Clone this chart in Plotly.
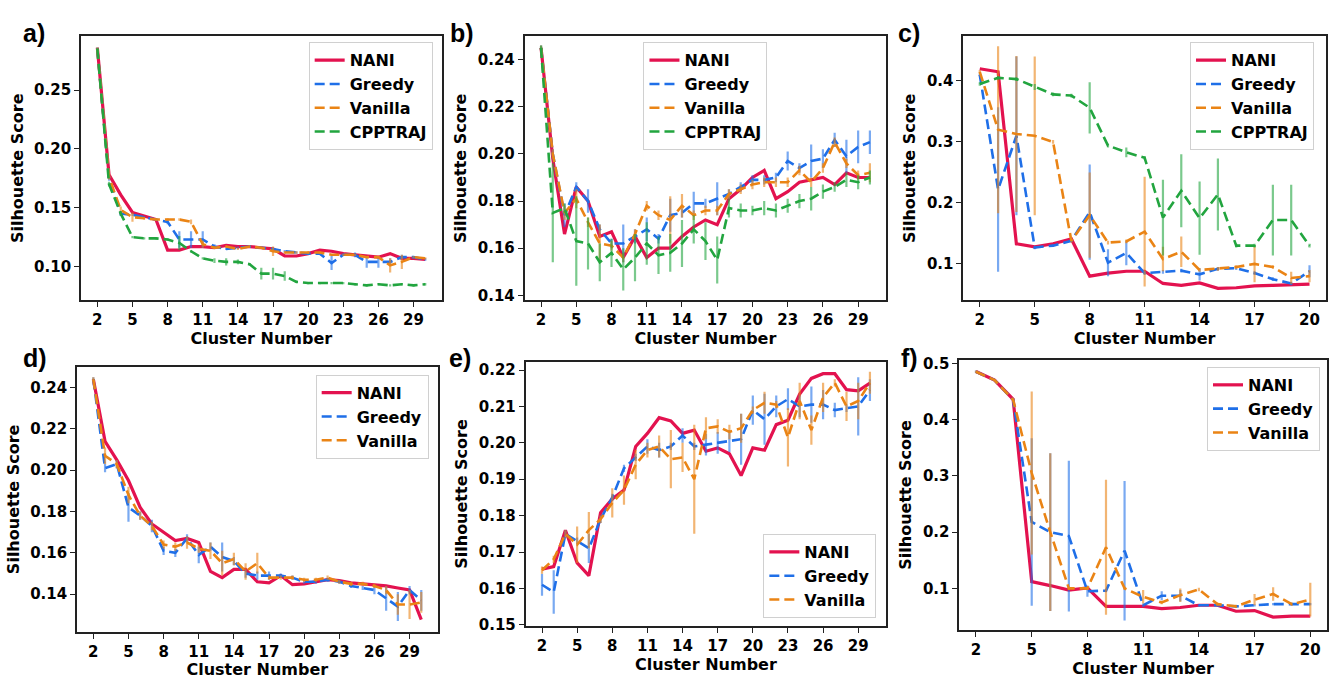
import plotly.graph_objects as go

# ---------------- data ----------------
k30 = list(range(2, 31))
k20 = list(range(2, 21))

# panel a
NANI_a = [0.286, 0.178, 0.161, 0.146, 0.143, 0.140, 0.114, 0.114, 0.117, 0.117, 0.116, 0.118, 0.117, 0.117, 0.116, 0.115, 0.109, 0.109, 0.111, 0.114, 0.113, 0.111, 0.110, 0.109, 0.108, 0.111, 0.107, 0.107, 0.106]
Greedy_a = [0.285, 0.175, 0.145, 0.144, 0.142, 0.140, 0.138, 0.123, 0.123, 0.123, 0.117, 0.115, 0.116, 0.117, 0.116, 0.115, 0.113, 0.112, 0.111, 0.111, 0.103, 0.110, 0.110, 0.104, 0.104, 0.104, 0.108, 0.108, 0.106]
Greedy_a_err = [0.001, 0.002, 0.002, 0.001, 0.001, 0.001, 0.002, 0.007, 0.007, 0.007, 0.002, 0.001, 0.001, 0.001, 0.001, 0.001, 0.001, 0.001, 0.001, 0.001, 0.006, 0.001, 0.002, 0.005, 0.005, 0.003, 0.002, 0.001, 0.001]
Vanilla_a = [0.285, 0.176, 0.148, 0.142, 0.141, 0.140, 0.140, 0.140, 0.138, 0.119, 0.116, 0.117, 0.115, 0.117, 0.116, 0.113, 0.112, 0.112, 0.112, 0.112, 0.110, 0.110, 0.110, 0.108, 0.108, 0.101, 0.104, 0.108, 0.107]
Vanilla_a_err = [0.001, 0.002, 0.003, 0.004, 0.001, 0.001, 0.001, 0.001, 0.002, 0.003, 0.001, 0.001, 0.001, 0.001, 0.001, 0.004, 0.001, 0.001, 0.001, 0.001, 0.001, 0.001, 0.001, 0.001, 0.001, 0.006, 0.006, 0.001, 0.001]
CPPTRAJ_a = [0.285, 0.170, 0.145, 0.125, 0.124, 0.124, 0.123, 0.120, 0.113, 0.107, 0.105, 0.104, 0.104, 0.102, 0.094, 0.094, 0.092, 0.087, 0.086, 0.086, 0.086, 0.086, 0.085, 0.084, 0.085, 0.084, 0.085, 0.084, 0.085]
CPPTRAJ_a_err = [0.001, 0.002, 0.002, 0.001, 0.001, 0.001, 0.001, 0.006, 0.001, 0.001, 0.002, 0.003, 0.002, 0.001, 0.005, 0.005, 0.004, 0.001, 0.001, 0.001, 0.001, 0.001, 0.001, 0.001, 0.001, 0.001, 0.001, 0.001, 0.001]

# panel b
NANI_b = [0.245, 0.198, 0.166, 0.186, 0.180, 0.165, 0.167, 0.156, 0.165, 0.156, 0.160, 0.160, 0.165, 0.169, 0.172, 0.170, 0.181, 0.185, 0.190, 0.193, 0.181, 0.184, 0.188, 0.189, 0.190, 0.187, 0.192, 0.190, 0.190]
Greedy_b = [0.245, 0.200, 0.174, 0.186, 0.180, 0.168, 0.162, 0.162, 0.165, 0.168, 0.164, 0.174, 0.175, 0.179, 0.179, 0.181, 0.183, 0.186, 0.189, 0.189, 0.190, 0.197, 0.194, 0.197, 0.198, 0.206, 0.199, 0.203, 0.205]
Greedy_b_err = [0.001, 0.002, 0.005, 0.002, 0.005, 0.002, 0.002, 0.008, 0.003, 0.005, 0.002, 0.007, 0.002, 0.005, 0.002, 0.007, 0.002, 0.002, 0.002, 0.002, 0.002, 0.004, 0.002, 0.007, 0.004, 0.003, 0.007, 0.007, 0.005]
Vanilla_b = [0.245, 0.200, 0.175, 0.181, 0.171, 0.162, 0.161, 0.156, 0.166, 0.178, 0.174, 0.172, 0.178, 0.174, 0.176, 0.176, 0.183, 0.185, 0.187, 0.188, 0.188, 0.188, 0.193, 0.188, 0.194, 0.205, 0.196, 0.191, 0.192]
Vanilla_b_err = [0.001, 0.002, 0.003, 0.004, 0.002, 0.008, 0.002, 0.002, 0.002, 0.002, 0.002, 0.010, 0.005, 0.002, 0.002, 0.002, 0.002, 0.002, 0.002, 0.002, 0.002, 0.002, 0.002, 0.002, 0.002, 0.002, 0.002, 0.002, 0.004]
CPPTRAJ_b = [0.245, 0.175, 0.177, 0.163, 0.162, 0.154, 0.158, 0.151, 0.156, 0.162, 0.157, 0.158, 0.162, 0.168, 0.163, 0.155, 0.177, 0.176, 0.176, 0.177, 0.176, 0.178, 0.180, 0.181, 0.184, 0.186, 0.189, 0.188, 0.190]
CPPTRAJ_b_err = [0.001, 0.021, 0.002, 0.019, 0.011, 0.008, 0.006, 0.009, 0.010, 0.009, 0.008, 0.008, 0.010, 0.006, 0.008, 0.010, 0.004, 0.003, 0.002, 0.003, 0.003, 0.003, 0.003, 0.005, 0.003, 0.002, 0.003, 0.003, 0.003]

# panel c
NANI_c = [0.420, 0.415, 0.133, 0.128, 0.133, 0.141, 0.080, 0.085, 0.088, 0.088, 0.068, 0.065, 0.069, 0.060, 0.061, 0.064, 0.065, 0.066, 0.067]
Greedy_c = [0.410, 0.222, 0.310, 0.127, 0.130, 0.138, 0.185, 0.102, 0.118, 0.085, 0.087, 0.089, 0.083, 0.092, 0.093, 0.085, 0.075, 0.068, 0.088]
Greedy_c_err = [0.002, 0.135, 0.130, 0.003, 0.002, 0.002, 0.078, 0.022, 0.020, 0.003, 0.003, 0.003, 0.010, 0.003, 0.003, 0.003, 0.003, 0.003, 0.010]
Vanilla_c = [0.415, 0.320, 0.313, 0.310, 0.300, 0.138, 0.180, 0.135, 0.137, 0.153, 0.108, 0.120, 0.090, 0.092, 0.095, 0.100, 0.095, 0.077, 0.080]
Vanilla_c_err = [0.003, 0.137, 0.128, 0.130, 0.003, 0.003, 0.070, 0.003, 0.003, 0.090, 0.020, 0.025, 0.003, 0.003, 0.003, 0.030, 0.003, 0.010, 0.010]
CPPTRAJ_c = [0.395, 0.405, 0.403, 0.390, 0.378, 0.376, 0.356, 0.294, 0.283, 0.274, 0.176, 0.220, 0.175, 0.214, 0.130, 0.130, 0.172, 0.172, 0.130]
CPPTRAJ_c_err = [0.003, 0.003, 0.003, 0.005, 0.003, 0.003, 0.042, 0.003, 0.008, 0.003, 0.062, 0.060, 0.060, 0.059, 0.003, 0.003, 0.058, 0.058, 0.003]

# panel d
NANI_d = [0.244, 0.214, 0.205, 0.195, 0.182, 0.174, 0.170, 0.166, 0.167, 0.165, 0.151, 0.148, 0.152, 0.152, 0.146, 0.1455, 0.149, 0.1446, 0.145, 0.146, 0.147, 0.1466, 0.1455, 0.145, 0.1446, 0.144, 0.143, 0.142, 0.1277]
Greedy_d = [0.244, 0.201, 0.203, 0.182, 0.178, 0.173, 0.161, 0.160, 0.167, 0.159, 0.163, 0.158, 0.156, 0.150, 0.149, 0.149, 0.149, 0.148, 0.146, 0.146, 0.147, 0.146, 0.144, 0.143, 0.142, 0.138, 0.134, 0.142, 0.137]
Greedy_d_err = [0.001, 0.002, 0.002, 0.007, 0.002, 0.003, 0.002, 0.002, 0.002, 0.004, 0.002, 0.007, 0.002, 0.002, 0.002, 0.002, 0.001, 0.001, 0.001, 0.001, 0.001, 0.001, 0.001, 0.001, 0.002, 0.006, 0.007, 0.002, 0.005]
Vanilla_d = [0.244, 0.207, 0.203, 0.188, 0.178, 0.173, 0.164, 0.163, 0.165, 0.162, 0.161, 0.155, 0.157, 0.151, 0.155, 0.148, 0.148, 0.148, 0.147, 0.147, 0.148, 0.146, 0.145, 0.145, 0.144, 0.142, 0.135, 0.135, 0.136]
Vanilla_d_err = [0.001, 0.004, 0.002, 0.004, 0.002, 0.002, 0.002, 0.002, 0.003, 0.002, 0.004, 0.006, 0.003, 0.004, 0.005, 0.001, 0.001, 0.001, 0.001, 0.001, 0.001, 0.001, 0.001, 0.001, 0.001, 0.002, 0.005, 0.007, 0.005]

# panel e
NANI_e = [0.1653, 0.166, 0.176, 0.167, 0.1635, 0.1808, 0.1846, 0.187, 0.199, 0.2026, 0.2069, 0.206, 0.2026, 0.2035, 0.1977, 0.1986, 0.197, 0.191, 0.1986, 0.198, 0.205, 0.2062, 0.2134, 0.2177, 0.219, 0.219, 0.2146, 0.2143, 0.2164]
Greedy_e = [0.161, 0.159, 0.175, 0.173, 0.171, 0.179, 0.185, 0.193, 0.196, 0.199, 0.198, 0.199, 0.202, 0.199, 0.1995, 0.200, 0.2005, 0.201, 0.209, 0.2065, 0.210, 0.212, 0.210, 0.2105, 0.2105, 0.209, 0.2095, 0.210, 0.2145]
Greedy_e_err = [0.003, 0.006, 0.001, 0.001, 0.004, 0.001, 0.001, 0.001, 0.001, 0.002, 0.002, 0.001, 0.002, 0.001, 0.003, 0.003, 0.003, 0.007, 0.004, 0.007, 0.003, 0.003, 0.003, 0.005, 0.004, 0.002, 0.001, 0.008, 0.003]
Vanilla_e = [0.165, 0.168, 0.175, 0.172, 0.176, 0.179, 0.1835, 0.187, 0.194, 0.198, 0.199, 0.1955, 0.196, 0.190, 0.204, 0.2045, 0.203, 0.204, 0.209, 0.211, 0.2105, 0.2015, 0.2115, 0.2035, 0.2125, 0.2165, 0.210, 0.2115, 0.2165]
Vanilla_e_err = [0.001, 0.001, 0.001, 0.005, 0.005, 0.001, 0.004, 0.004, 0.004, 0.002, 0.003, 0.008, 0.004, 0.015, 0.003, 0.002, 0.002, 0.004, 0.001, 0.003, 0.001, 0.008, 0.005, 0.004, 0.004, 0.001, 0.004, 0.005, 0.003]

# panel f
NANI_f = [0.4855, 0.470, 0.436, 0.112, 0.105, 0.097, 0.101, 0.068, 0.068, 0.068, 0.064, 0.066, 0.070, 0.070, 0.0594, 0.0606, 0.049, 0.0507, 0.0507]
Greedy_f = [0.485, 0.470, 0.435, 0.218, 0.200, 0.193, 0.095, 0.096, 0.167, 0.070, 0.087, 0.087, 0.070, 0.070, 0.068, 0.070, 0.072, 0.072, 0.072]
Greedy_f_err = [0.002, 0.002, 0.003, 0.149, 0.140, 0.134, 0.010, 0.003, 0.124, 0.003, 0.008, 0.010, 0.002, 0.002, 0.002, 0.002, 0.002, 0.002, 0.002]
Vanilla_f = [0.485, 0.470, 0.435, 0.305, 0.200, 0.100, 0.100, 0.173, 0.100, 0.085, 0.075, 0.088, 0.098, 0.072, 0.068, 0.080, 0.090, 0.072, 0.080]
Vanilla_f_err = [0.002, 0.002, 0.003, 0.145, 0.140, 0.003, 0.003, 0.120, 0.003, 0.012, 0.003, 0.012, 0.003, 0.003, 0.003, 0.010, 0.012, 0.003, 0.030]

ticks30 = [2, 5, 8, 11, 14, 17, 20, 23, 26, 29]
ticks20 = [2, 5, 8, 11, 14, 17, 20]

# ---------------- styling ----------------
C_NANI = "#e3124f"
C_GREEDY = "#1f6fe8"
C_VAN = "#ea8415"
C_CPP = "#22a53f"
ERR = {C_GREEDY: "rgba(31,111,232,0.6)", C_VAN: "rgba(234,132,21,0.6)", C_CPP: "rgba(34,165,63,0.6)"}
FONT = "DejaVu Sans"

panels = [
    dict(name="a", x=k30, ticks=ticks30, xr=[0.6, 31.4], yr=[0.0714, 0.2956], ytv=[0.10, 0.15, 0.20, 0.25], fmt=".2f",
         dom_x=[81, 442], dom_y=[32, 301],
         series=[("NANI", NANI_a, None), ("Greedy", Greedy_a, Greedy_a_err), ("Vanilla", Vanilla_a, Vanilla_a_err), ("CPPTRAJ", CPPTRAJ_a, CPPTRAJ_a_err)],
         leg=dict(x=433, y=38, xa="right", ya="top"), lab=(34, 29)),
    dict(name="b", x=k30, ticks=ticks30, xr=[0.6, 31.4], yr=[0.1379, 0.2499], ytv=[0.14, 0.16, 0.18, 0.20, 0.22, 0.24], fmt=".2f",
         dom_x=[525, 887], dom_y=[32, 301],
         series=[("NANI", NANI_b, None), ("Greedy", Greedy_b, Greedy_b_err), ("Vanilla", Vanilla_b, Vanilla_b_err), ("CPPTRAJ", CPPTRAJ_b, CPPTRAJ_b_err)],
         leg=dict(x=706, y=38, xa="center", ya="top"), lab=(462, 29)),
    dict(name="c", x=k20, ticks=ticks20, xr=[1.1, 20.9], yr=[0.0405, 0.473], ytv=[0.1, 0.2, 0.3, 0.4], fmt=".1f",
         dom_x=[964, 1327], dom_y=[32, 301],
         series=[("NANI", NANI_c, None), ("Greedy", Greedy_c, Greedy_c_err), ("Vanilla", Vanilla_c, Vanilla_c_err), ("CPPTRAJ", CPPTRAJ_c, CPPTRAJ_c_err)],
         leg=dict(x=1315, y=38, xa="right", ya="top"), lab=(910, 29)),
    dict(name="d", x=k30, ticks=ticks30, xr=[0.6, 31.4], yr=[0.1218, 0.25], ytv=[0.14, 0.16, 0.18, 0.20, 0.22, 0.24], fmt=".2f",
         dom_x=[77, 438], dom_y=[369, 639],
         series=[("NANI", NANI_d, None), ("Greedy", Greedy_d, Greedy_d_err), ("Vanilla", Vanilla_d, Vanilla_d_err)],
         leg=dict(x=429, y=377, xa="right", ya="top"), lab=(35, 360)),
    dict(name="e", x=k30, ticks=ticks30, xr=[0.6, 31.4], yr=[0.1497, 0.2222], ytv=[0.15, 0.16, 0.17, 0.18, 0.19, 0.20, 0.21, 0.22], fmt=".2f",
         dom_x=[526, 887], dom_y=[364, 633],
         series=[("NANI", NANI_e, None), ("Greedy", Greedy_e, Greedy_e_err), ("Vanilla", Vanilla_e, Vanilla_e_err)],
         leg=dict(x=877, y=625, xa="right", ya="bottom"), lab=(460, 360)),
    dict(name="f", x=k20, ticks=ticks20, xr=[1.1, 20.9], yr=[0.0264, 0.5057], ytv=[0.1, 0.2, 0.3, 0.4, 0.5], fmt=".1f",
         dom_x=[960, 1328], dom_y=[362, 637],
         series=[("NANI", NANI_f, None), ("Greedy", Greedy_f, Greedy_f_err), ("Vanilla", Vanilla_f, Vanilla_f_err)],
         leg=dict(x=1321, y=369, xa="right", ya="top"), lab=(910, 360)),
]

W, H = 1329, 679
colors = {"NANI": C_NANI, "Greedy": C_GREEDY, "Vanilla": C_VAN, "CPPTRAJ": C_CPP}

fig = go.Figure()
layout = dict(width=W, height=H, margin=dict(l=0, r=0, t=0, b=0),
              paper_bgcolor="white", plot_bgcolor="white", showlegend=True,
              font=dict(family=FONT, size=15, color="black", weight="bold"))
annotations = []

for i, p in enumerate(panels, start=1):
    sfx = "" if i == 1 else str(i)
    xa, ya = "x" + sfx, "y" + sfx
    legname = "legend" + sfx
    for j, (nm, vals, err) in enumerate(p["series"]):
        col = colors[nm]
        tr = dict(x=p["x"], y=vals, name=nm, mode="lines", xaxis=xa, yaxis=ya,
                  legend=legname, legendgroup=f"{p['name']}{nm}",
                  line=dict(color=col, width=3.2 if nm == "NANI" else 2.6,
                            dash="solid" if nm == "NANI" else "10px,5px"))
        if err is not None:
            tr["error_y"] = dict(type="data", array=err, visible=True, color=ERR[col], thickness=2.2, width=0)
        fig.add_trace(go.Scatter(**tr))

    x0, x1 = p["dom_x"]
    y0, y1 = p["dom_y"]
    axcommon = dict(showline=True, mirror=True, linecolor="#222222", linewidth=1.6,
                    ticks="outside", ticklen=5, tickwidth=1.2, tickcolor="#222222",
                    showgrid=False, zeroline=False,
                    tickfont=dict(family=FONT, size=15, color="black", weight="bold"))
    layout["xaxis" + sfx] = dict(axcommon, domain=[x0 / W, x1 / W], range=p["xr"], anchor=ya,
                                 tickmode="array", tickvals=p["ticks"],
                                 title=dict(text="Cluster Number", standoff=2,
                                            font=dict(family=FONT, size=16, color="black", weight="bold")))
    layout["yaxis" + sfx] = dict(axcommon, domain=[1 - y1 / H, 1 - y0 / H], range=p["yr"], anchor=xa,
                                 tickmode="array", tickvals=p["ytv"], tickformat=p["fmt"],
                                 title=dict(text="Silhouette Score", standoff=7,
                                            font=dict(family=FONT, size=16, color="black", weight="bold")))
    lg = p["leg"]
    layout[legname] = dict(x=lg["x"] / W, y=1 - lg["y"] / H, xanchor=lg["xa"], yanchor=lg["ya"],
                           xref="paper", yref="paper",
                           bgcolor="rgba(255,255,255,0.85)", bordercolor="#d0d0d0", borderwidth=1,
                           font=dict(family=FONT, size=16, color="black", weight="bold"),
                           tracegroupgap=0, itemwidth=30)
    annotations.append(dict(text=p["name"] + ")", x=p["lab"][0] / W, y=1 - p["lab"][1] / H,
                            xref="paper", yref="paper", showarrow=False, xanchor="center", yanchor="middle",
                            font=dict(family="Liberation Sans", size=25, color="black", weight="bold")))

layout["annotations"] = annotations
fig.update_layout(**layout)
fig.write_html("out.html")
